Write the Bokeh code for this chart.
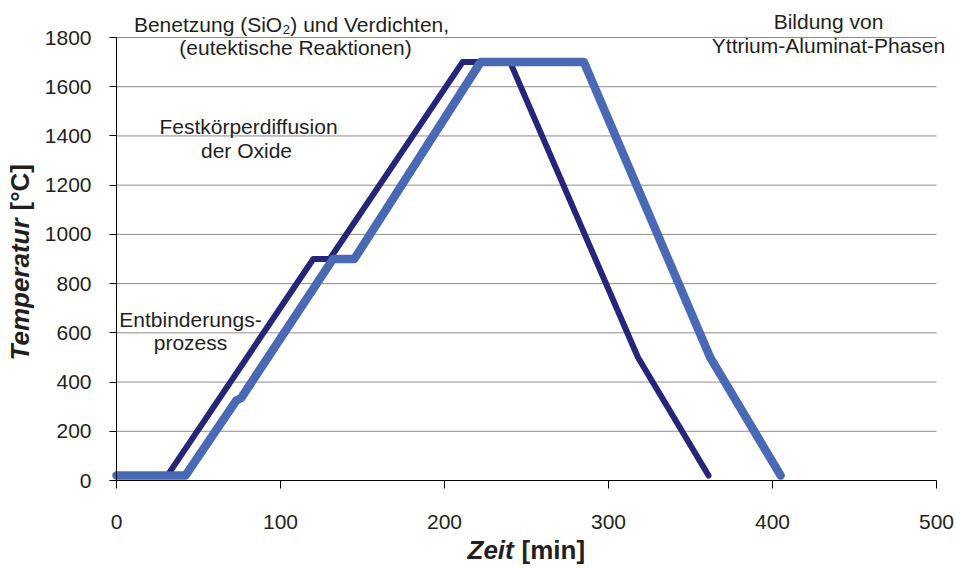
import math
from bokeh.plotting import figure
from bokeh.models import Range1d, FixedTicker, Label
from bokeh.embed import file_html
from bokeh.resources import INLINE

# ---- data ----
time_dark = [0, 31, 120, 130, 211, 240, 318, 361]
temp_dark = [20, 20, 900, 900, 1700, 1700, 500, 20]
time_light = [0, 42, 73, 76, 132, 145, 222, 285, 362, 405]
temp_light = [20, 20, 325, 335, 900, 900, 1700, 1700, 500, 20]
x_ticks = [0, 100, 200, 300, 400, 500]
y_ticks = [0, 200, 400, 600, 800, 1000, 1200, 1400, 1600, 1800]

FONT = "Liberation Sans"
TXT = "#231F20"

W, H = 956, 568
# plot area in page pixels
PL, PR, PT, PB = 116, 936, 37, 480
XMIN, XMAX = x_ticks[0], x_ticks[-1]
YMIN, YMAX = y_ticks[0], y_ticks[-1]
sx = (PR - PL) / (XMAX - XMIN)
sy = (PB - PT) / (YMAX - YMIN)

def X(px):
    return XMIN + (px - PL) / sx

def Y(py):
    return YMIN + (PB - py) / sy

p = figure(width=W, height=H, output_backend="svg", toolbar_location=None,
           x_range=Range1d(X(0), X(W)), y_range=Range1d(Y(H), Y(0)),
           min_border=0)
p.outline_line_color = None
p.background_fill_color = "white"
p.border_fill_color = "white"

p.xaxis.fixed_location = YMIN
p.yaxis.fixed_location = XMIN
p.xaxis.bounds = (XMIN, XMAX)
p.yaxis.bounds = (YMIN, YMAX)
p.xaxis.ticker = FixedTicker(ticks=x_ticks)
p.yaxis.ticker = FixedTicker(ticks=y_ticks)
for ax in (p.xaxis[0], p.yaxis[0]):
    ax.axis_line_color = "black"
    ax.axis_line_width = 1
    ax.major_tick_line_color = "black"
    ax.major_tick_in = 0
    ax.minor_tick_line_color = None
    ax.major_label_text_font = FONT
    ax.major_label_text_font_size = "21px"
    ax.major_label_text_color = TXT
p.xaxis.major_tick_out = 8
p.yaxis.major_tick_out = 7
p.xaxis.major_label_standoff = 26
p.yaxis.major_label_standoff = 18
p.xgrid.grid_line_color = None
p.ygrid.grid_line_color = None

# horizontal gridlines spanning the plot area only
grid_y = y_ticks[1:]
p.segment(x0=[XMIN] * len(grid_y), x1=[XMAX] * len(grid_y), y0=grid_y, y1=grid_y,
          line_color="#8C8C8C", line_width=1)

p.line(time_dark, temp_dark, line_color="#25257A", line_width=6,
       line_cap="round", line_join="round")
p.line(time_light, temp_light, line_color="#4A69B5", line_width=8.5,
       line_cap="round", line_join="round")

def lab(text, px, py, size="21px", style="normal", align="center", angle=0.0):
    p.add_layout(Label(x=X(px), y=Y(py), x_units="data", y_units="data",
                       text=text, text_font=FONT, text_font_size=size,
                       text_font_style=style, text_color=TXT,
                       text_align=align, text_baseline="alphabetic",
                       angle=angle))

lab("Benetzung (SiO\u2082) und Verdichten,", 291, 24)
lab("(eutektische Reaktionen)", 295, 47)
lab("Bildung von", 828, 21)
lab("Yttrium-Aluminat-Phasen", 828, 45)
lab("Festkörperdiffusion", 248, 126)
lab("der Oxide", 246, 150)
lab("Entbinderungs-", 190, 319)
lab("prozess", 190, 342)

# axis titles (mixed styles)
lab("Temperatur", 19, 360, size="26px", style="bold italic", align="left", angle=math.pi / 2)
lab("[°C]", 19, 210, size="26px", style="bold", align="left", angle=math.pi / 2)
lab("Zeit", 467, 549, size="26px", style="bold italic", align="left")
lab("[min]", 521, 549, size="26px", style="bold", align="left")

open("out.html", "w").write(file_html(p, INLINE))
